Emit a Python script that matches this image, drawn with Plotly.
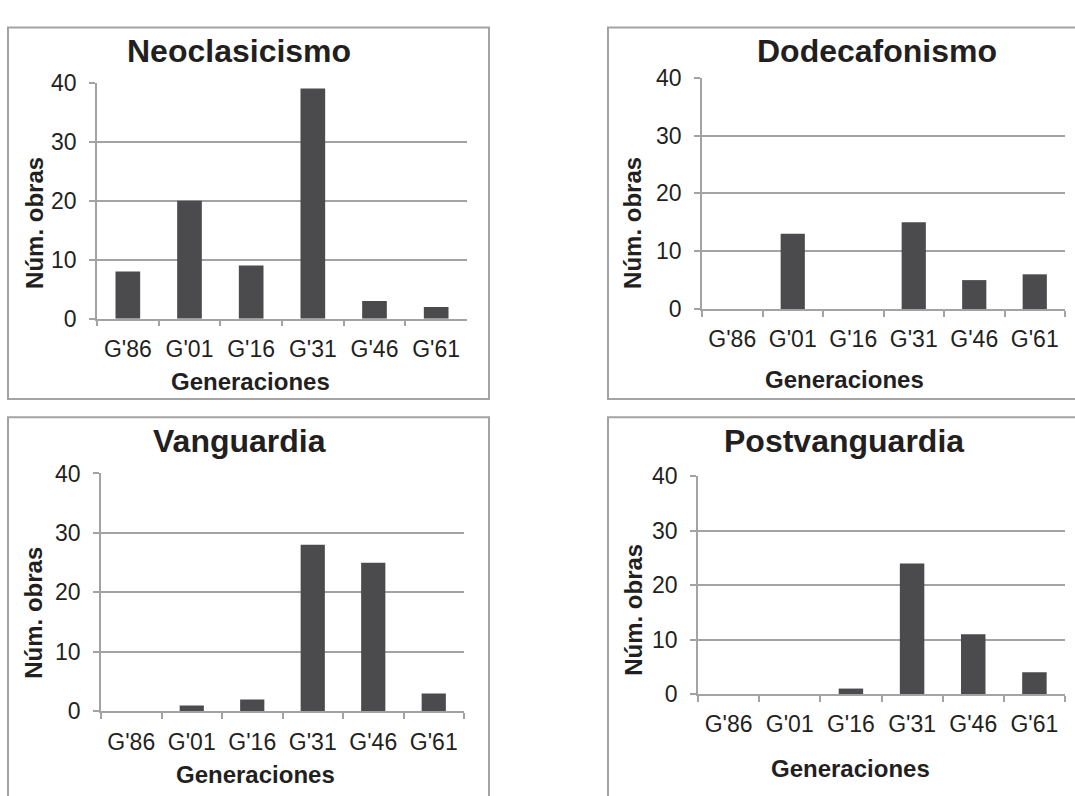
import plotly.graph_objects as go

W, H = 1075, 796

generaciones = ["G'86", "G'01", "G'16", "G'31", "G'46", "G'61"]
neoclasicismo = [8, 20, 9, 39, 3, 2]
dodecafonismo = [0, 13, 0, 15, 5, 6]
vanguardia = [0, 1, 2, 28, 25, 3]
postvanguardia = [0, 0, 1, 24, 11, 4]

titulos = ["Neoclasicismo", "Dodecafonismo", "Vanguardia", "Postvanguardia"]
series = [neoclasicismo, dodecafonismo, vanguardia, postvanguardia]

FONT = "Arial, Liberation Sans, sans-serif"
TXT = "#231f20"
GRID = "#a3a3a3"
BAR = "#4b4b4d"

# panel layout in pixels: plot box (x0, x1, ytop, ybottom), title pos, axis-title pos, frame
panels = [
    dict(plot=(97, 467, 72, 316), title=(239, 39), ytitle=(35, 217), xtitle=(250, 381),
         frame=(8, 489, 15, 399)),
    dict(plot=(702, 1065, 67, 306), title=(877, 39), ytitle=(633, 217), xtitle=(844, 379),
         frame=(608, 1090, 15, 399)),
    dict(plot=(101, 464, 476, 722), title=(239, 442), ytitle=(34, 620), xtitle=(255, 787),
         frame=(8, 489, 418, 830)),
    dict(plot=(698, 1065, 479, 704), title=(844, 442), ytitle=(634, 617), xtitle=(850, 781),
         frame=(608, 1090, 418, 830)),
]


def px(x):
    return x / W


def py(y):
    return 1 - y / H


fig = go.Figure()
annotations = []
shapes = []

for i, (p, nombre, vals) in enumerate(zip(panels, titulos, series)):
    n = "" if i == 0 else str(i + 1)
    x0, x1, yt, yb = p["plot"]
    fig.add_trace(go.Bar(
        x=generaciones, y=vals, xaxis="x" + n, yaxis="y" + n,
        marker=dict(color=BAR, line=dict(width=0)), showlegend=False,
    ))
    fig.layout["xaxis" + n] = dict(
        domain=[px(x0), px(x1)], anchor="y" + n, type="category",
        showline=True, linecolor=GRID, linewidth=1.5,
        ticks="outside", tickson="boundaries", ticklen=6, tickcolor=GRID, tickwidth=1.5,
        showgrid=False, tickfont=dict(family=FONT, size=23, color=TXT),
        ticklabelstandoff=9, fixedrange=True,
    )
    fig.layout["yaxis" + n] = dict(
        domain=[py(yb), py(yt)], anchor="x" + n, range=[0, 40],
        tickvals=[0, 10, 20, 30, 40], showline=True, linecolor=GRID, linewidth=1.5,
        ticks="outside", ticklen=6, tickcolor=GRID, tickwidth=1.5,
        showgrid=True, gridcolor=GRID, gridwidth=1.5, zeroline=False,
        tickfont=dict(family=FONT, size=23, color=TXT), ticklabelstandoff=8,
        fixedrange=True,
    )
    tx, ty = p["title"]
    annotations.append(dict(text="<b>%s</b>" % nombre, x=px(tx), y=py(ty), xref="paper", yref="paper",
                            xanchor="center", yanchor="middle", showarrow=False,
                            font=dict(family=FONT, size=32, color=TXT)))
    ax_, ay_ = p["ytitle"]
    annotations.append(dict(text="<b>Núm. obras</b>", x=px(ax_), y=py(ay_), xref="paper", yref="paper",
                            xanchor="center", yanchor="middle", textangle=-90, showarrow=False,
                            font=dict(family=FONT, size=24, color=TXT)))
    gx, gy = p["xtitle"]
    annotations.append(dict(text="<b>Generaciones</b>", x=px(gx), y=py(gy), xref="paper", yref="paper",
                            xanchor="center", yanchor="middle", showarrow=False,
                            font=dict(family=FONT, size=24, color=TXT)))
    fx0, fx1, fy0, fy1 = p["frame"]
    shapes.append(dict(type="rect", xref="paper", yref="paper",
                       x0=px(fx0), x1=px(fx1), y0=py(fy1), y1=py(fy0),
                       line=dict(color=GRID, width=2), fillcolor="rgba(0,0,0,0)", layer="below"))

fig.update_layout(
    width=W, height=H, margin=dict(l=0, r=0, t=0, b=0),
    paper_bgcolor="white", plot_bgcolor="white",
    bargap=0.6, annotations=annotations, shapes=shapes,
    font=dict(family=FONT, color=TXT),
)

fig.write_html("out.html", config={"displayModeBar": False})
